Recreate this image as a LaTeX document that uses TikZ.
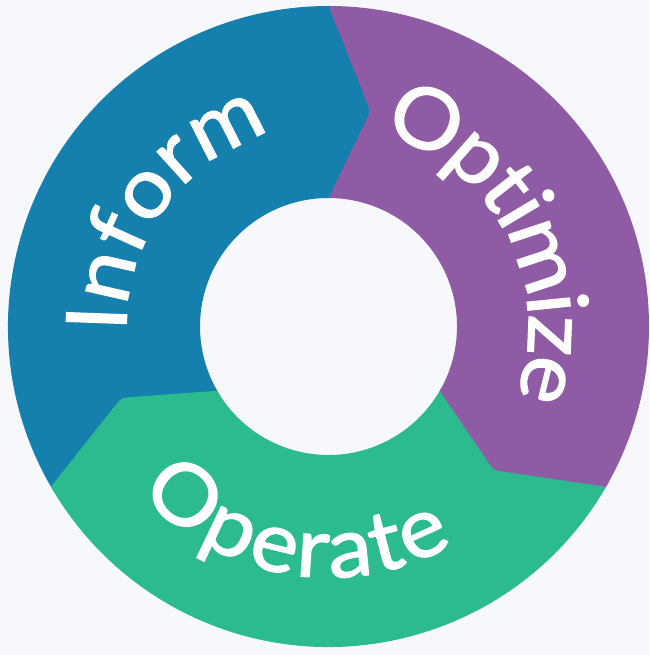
\documentclass[tikz,border=0pt]{standalone}
\usepackage{fontspec}
\newfontfamily\ringfont{Lato}[FakeBold=1.5, FakeStretch=1.07]
\usetikzlibrary{calc, decorations.text}
\definecolor{ringbg}{HTML}{F7F8FC}
\definecolor{informblue}{HTML}{1580AE}
\definecolor{optimizepurple}{HTML}{8F5BA5}
\definecolor{operategreen}{HTML}{2BBB8F}

\begin{document}
\begin{tikzpicture}[x=1pt, y=1pt,
    segtext/.style={decorate, decoration={text along path, text align=center,
        text color=white, text={|\ringfont\fontsize{84}{84}\selectfont|#1}}}]
            \def\Rout{320.5pt}
            \def\Rin{128.5pt}
            \def\Rtip{219pt}
            \def\dtip{11}
            \useasboundingbox[fill=ringbg] (-328.5,-328.5) rectangle (320.5,326.5);
            % sectors
            \foreach \a/\b/\c in {210/90/informblue, 90/-30/optimizepurple, -30/-150/operategreen}
                \fill[\c] (\a:\Rout) arc[start angle=\a, end angle=\b, radius=\Rout]
                    -- (\b:\Rin) arc[start angle=\b, end angle=\a, radius=\Rin] -- cycle;
            % arrow tips
            \foreach \b/\c in {90/informblue, -30/optimizepurple, -150/operategreen}{
                \coordinate (O) at (\b:\Rout);
                \coordinate (T) at (\b-\dtip:\Rtip);
                \coordinate (I) at (\b:\Rin);
                \fill[\c] (\b+1:\Rout) arc[start angle=\b+1, end angle=\b, radius=\Rout]
                    -- ($(T)!10pt!(O)$) .. controls (T) .. ($(T)!10pt!(I)$)
                    -- (I) arc[start angle=\b, end angle=\b+1, radius=\Rin] -- cycle;
            }
            % labels
            \path[segtext=Inform] (204:202pt) arc[start angle=204, end angle=84, radius=202pt];
            \path[segtext=Optimize, decoration={raise=-19pt}] (87:219pt) arc[start angle=87, end angle=-33, radius=219pt];
            \path[segtext=Operate, decoration={raise=-15pt}] (200.5:236pt) arc[start angle=200.5, end angle=320.5, radius=236pt];
        \end{tikzpicture}
\end{document}
